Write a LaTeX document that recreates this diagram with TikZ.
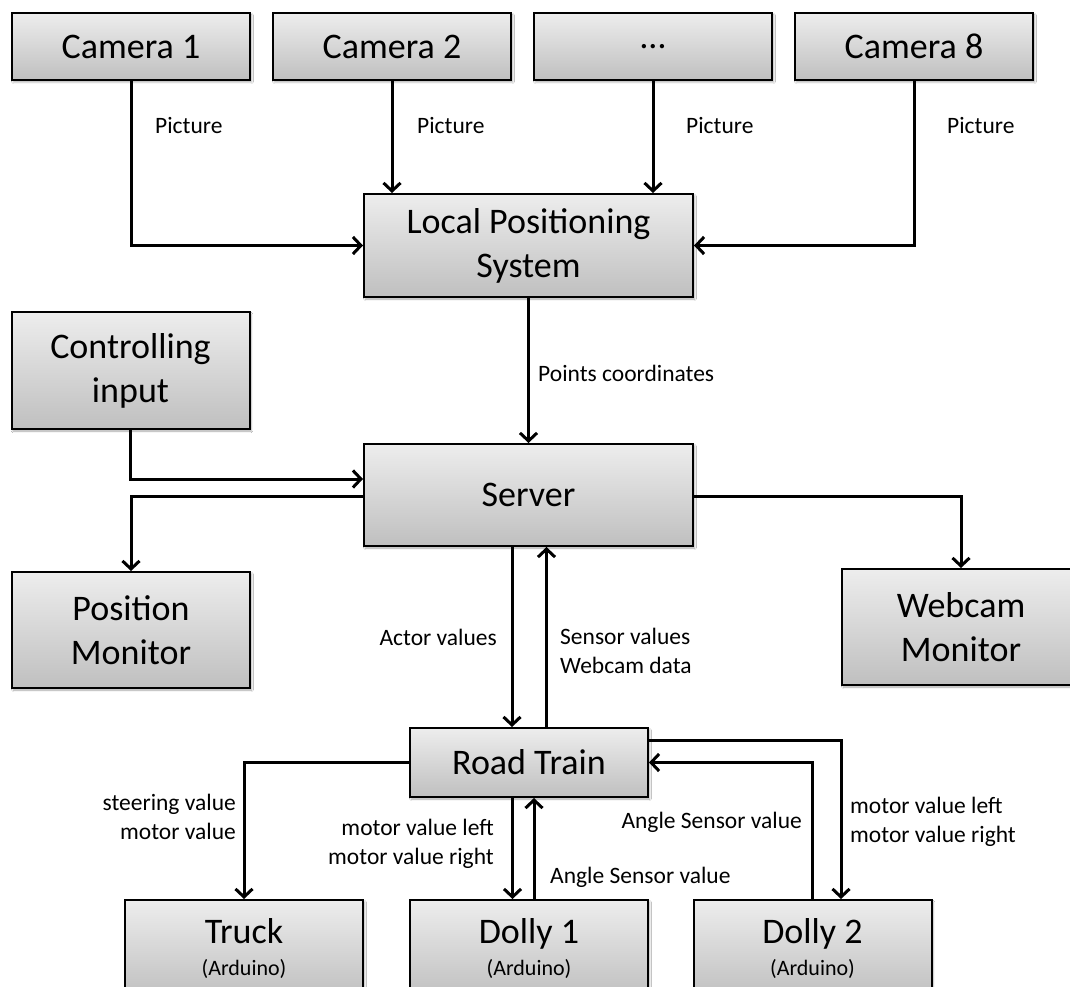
\documentclass[tikz,border=0pt]{standalone}
\usepackage{fontspec}
\setmainfont{Carlito}
\usetikzlibrary{arrows.meta,shadows.blur}

\begin{document}
\begin{tikzpicture}[x=1pt,y=-1pt,
  box/.style={draw=black, line width=2pt, top color=gray!14, bottom color=gray!50,
    blur shadow={shadow xshift=1.5pt, shadow yshift=-2pt, shadow blur steps=4, shadow opacity=35},
    minimum width=238pt, inner sep=0pt, align=center, font=\fontsize{36}{44}\selectfont},
  link/.style={line width=3pt, -{Straight Barb[length=8pt,width=17pt]}},
  lbl/.style={font=\fontsize{23.5}{29}\selectfont, inner sep=0pt}
]
\clip (0,0) rectangle (1070,987);
\fill[white] (0,0) rectangle (1070,987);

% cameras
\node[box, minimum height=67pt] (cam1) at (131,46.5) {Camera 1};
\node[box, minimum height=67pt] (cam2) at (392,46.5) {Camera 2};
\node[box, minimum height=67pt] (camd) at (653,46.5) {…};
\node[box, minimum height=67pt] (cam8) at (914,46.5) {Camera 8};

% central chain
\node[box, minimum width=329pt, minimum height=103pt] (lps) at (528.5,245.5) {Local Positioning\\System};
\node[box, minimum height=117pt] (ctrl) at (130.5,370.5) {Controlling\\input};
\node[box, minimum width=329pt, minimum height=102pt] (server) at (528.5,495) {Server};
\node[box, minimum height=116pt] (posmon) at (131,630) {Position\\Monitor};
\node[box, minimum height=116pt] (webmon) at (961,627) {Webcam\\Monitor};
\node[box, minimum height=69pt] (rt) at (529,762.5) {Road Train};

% vehicles
\node[box, minimum height=98pt, anchor=north] (truck) at (244,899) {Truck\\[-12pt]{\fontsize{22}{26}\selectfont(Arduino)}};
\node[box, minimum height=98pt, anchor=north] (dolly1) at (529,899) {Dolly 1\\[-12pt]{\fontsize{22}{26}\selectfont(Arduino)}};
\node[box, minimum height=98pt, anchor=north] (dolly2) at (812.5,899) {Dolly 2\\[-12pt]{\fontsize{22}{26}\selectfont(Arduino)}};

% pictures into the positioning system
\draw[link] (cam1.south) |- (lps.west);
\draw[link] (cam2.south) -- (cam2.south |- lps.north);
\draw[link] (camd.south) -- (camd.south |- lps.north);
\draw[link] (cam8.south) |- (lps.east);
\draw[link] (lps.south) -- (server.north);

% server links
\draw[link] (ctrl.south) |- ([yshift=16pt]server.west);
\draw[link] ([yshift=-1pt]server.west) -| (posmon.north);
\draw[link] ([yshift=-1pt]server.east) -| (webmon.north);
\draw[link] ([xshift=-16.5pt]server.south) -- ([xshift=-16.5pt]server.south |- rt.north);
\draw[link] ([xshift=17.5pt]rt.north) -- ([xshift=17.5pt]rt.north |- server.south);

% road train links
\draw[link] (rt.west) -| (truck.north);
\draw[link] ([xshift=-16.5pt]rt.south) -- ([xshift=-16.5pt]rt.south |- dolly1.north);
\draw[link] ([xshift=5pt]dolly1.north) -- ([xshift=5pt]dolly1.north |- rt.south);
\draw[link] ([yshift=22.5pt]rt.east) -| ([xshift=28.5pt]dolly2.north);
\draw[link] (dolly2.north) |- (rt.east);

% labels
\node[lbl, anchor=west] (l1) at (155,126) {Picture};
\node[lbl, anchor=west] (l2) at (417,126) {Picture};
\node[lbl, anchor=west] (l3) at (686,126) {Picture};
\node[lbl, anchor=west] (l4) at (947,126) {Picture};
\node[lbl, anchor=west] (l5) at (538,373) {Points coordinates};
\node[lbl, anchor=east] (l6) at (497,637) {Actor values};
\node[lbl, anchor=west, align=left] (l7) at (560,651) {Sensor values\\Webcam data};
\node[lbl, anchor=east, align=right] (l8) at (236,817) {steering value\\motor value};
\node[lbl, anchor=east, align=right] (l9) at (494,844) {motor value left\\motor value right};
\node[lbl, anchor=west] (l10) at (550,877) {Angle Sensor value};
\node[lbl, anchor=east] (l11) at (802,822) {Angle Sensor value};
\node[lbl, anchor=west, align=left] (l12) at (850,822) {motor value left\\motor value right};
\end{tikzpicture}
\end{document}
